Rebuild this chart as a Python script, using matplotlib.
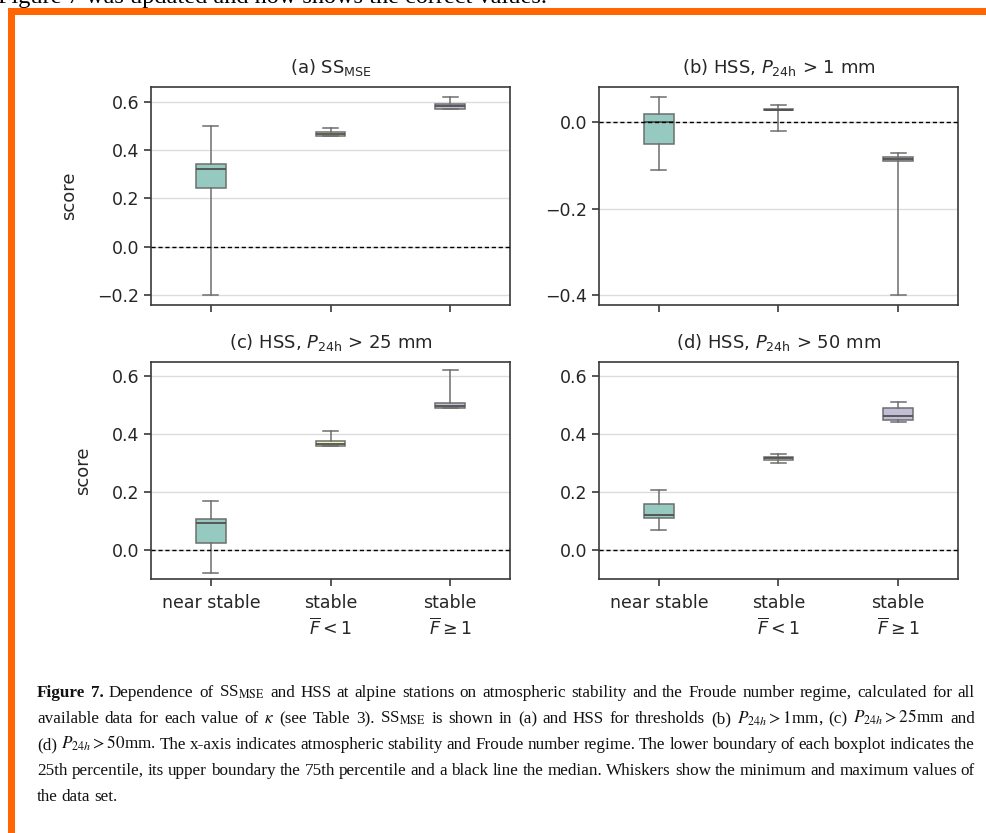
import matplotlib
matplotlib.use("Agg")
import matplotlib.pyplot as plt
from matplotlib.patches import Rectangle

# ---------------- data ----------------
categories = ["near stable", "stable\n$\\overline{F}<1$", "stable\n$\\overline{F}\\geq1$"]
titles = [r"(a) SS$_\mathregular{MSE}$",
          r"(b) HSS, $P_\mathregular{24h}$ > 1 mm",
          r"(c) HSS, $P_\mathregular{24h}$ > 25 mm",
          r"(d) HSS, $P_\mathregular{24h}$ > 50 mm"]

a_q1 = [0.244, 0.459, 0.571]
a_med = [0.321, 0.465, 0.580]
a_q3 = [0.341, 0.473, 0.588]
a_lo = [-0.20, 0.459, 0.571]
a_hi = [0.50, 0.49, 0.62]

b_q1 = [-0.051, 0.028, -0.090]
b_med = [0.000, 0.029, -0.085]
b_q3 = [0.019, 0.030, -0.081]
b_lo = [-0.11, -0.02, -0.40]
b_hi = [0.059, 0.040, -0.07]

c_q1 = [0.025, 0.359, 0.490]
c_med = [0.092, 0.365, 0.497]
c_q3 = [0.106, 0.375, 0.506]
c_lo = [-0.08, 0.359, 0.490]
c_hi = [0.170, 0.41, 0.62]

d_q1 = [0.111, 0.310, 0.449]
d_med = [0.120, 0.315, 0.461]
d_q3 = [0.157, 0.321, 0.490]
d_lo = [0.069, 0.298, 0.44]
d_hi = [0.207, 0.329, 0.51]

yticks_a = [-0.2, 0.0, 0.2, 0.4, 0.6]
yticks_b = [-0.4, -0.2, 0.0]
yticks_cd = [0.0, 0.2, 0.4, 0.6]

box_colors = ["#96cac1", "#f5f5bc", "#c1bed6"]
line_col = "#6e6e6e"

W, H = 987, 833
fig = plt.figure(figsize=(W / 100, H / 100), dpi=100)
fig.patch.set_facecolor("white")
plt.rcParams["font.family"] = ["DejaVu Sans"]


def rect(x0, y0, x1, y1):
    return [x0 / W, 1 - y1 / H, (x1 - x0) / W, (y1 - y0) / H]


panels = [
    (rect(151, 87, 510, 305), (a_q1, a_med, a_q3, a_lo, a_hi), (-0.24, 0.66), yticks_a, True, False),
    (rect(599, 87, 958, 305), (b_q1, b_med, b_q3, b_lo, b_hi), (-0.423, 0.082), yticks_b, False, False),
    (rect(151, 362, 510, 579), (c_q1, c_med, c_q3, c_lo, c_hi), (-0.10, 0.647), yticks_cd, True, True),
    (rect(599, 362, 958, 579), (d_q1, d_med, d_q3, d_lo, d_hi), (-0.10, 0.647), yticks_cd, False, True),
]

for i, (pos, st, ylim, yt, ylab, xlab) in enumerate(panels):
    ax = fig.add_axes(pos)
    q1, med, q3, lo, hi = st
    stats = [dict(q1=q1[k], med=med[k], q3=q3[k], whislo=lo[k], whishi=hi[k],
                  fliers=[], label=categories[k]) for k in range(3)]
    res = ax.bxp(stats, positions=[0, 1, 2], widths=0.25, patch_artist=True,
                 showfliers=False,
                 boxprops=dict(edgecolor=line_col, linewidth=1.1),
                 whiskerprops=dict(color=line_col, linewidth=1.1),
                 capprops=dict(color=line_col, linewidth=1.1),
                 medianprops=dict(color="#505050", linewidth=1.3))
    for patch, c in zip(res["boxes"], box_colors):
        patch.set_facecolor(c)
    for art in res["boxes"] + res["whiskers"] + res["caps"] + res["medians"]:
        art.set_zorder(3)
    ax.set_xlim(-0.5, 2.5)
    ax.set_ylim(*ylim)
    ax.set_yticks(yt)
    ax.yaxis.grid(True, color="#dcdcdc", linewidth=1.0, zorder=0)
    ax.set_axisbelow(True)
    ax.axhline(0, color="black", linestyle="--", linewidth=1.0, dashes=(3, 2), zorder=4)
    for s in ax.spines.values():
        s.set_color("#3a3a3a")
        s.set_linewidth(1.2)
    ax.tick_params(axis="both", length=5, width=1.2, color="#3a3a3a",
                   labelsize=12.5, labelcolor="#262626")
    ax.tick_params(axis="x", pad=6)
    ax.set_xticks([0, 1, 2])
    if xlab:
        ax.set_xticklabels(categories, linespacing=1.3)
    else:
        ax.set_xticklabels([])
    if ylab:
        ax.set_ylabel("score", fontsize=13, color="#262626", labelpad=14)
    ax.set_title(titles[i], fontsize=13, color="#262626", pad=10)

# ---------------- orange frame ----------------
orange = "#ff6500"
fig.patches.append(Rectangle((8 / W, 1 - 15 / H), 1, 7 / H, transform=fig.transFigure,
                             facecolor=orange, edgecolor="none", figure=fig))
fig.patches.append(Rectangle((8 / W, 0), 7 / W, 1 - 8 / H, transform=fig.transFigure,
                             facecolor=orange, edgecolor="none", figure=fig))

# top cut-off text
fig.text(-2 / W, 1 - 2.5 / H, "Figure 7 was updated and now shows the correct values.",
         family="Liberation Serif", fontsize=17.5, va="baseline", ha="left", color="black")

# ---------------- caption (justified) ----------------
cap_lines = [
    [("Figure", "bold"), ("7.", "bold")] + [(w, "normal") for w in
        "Dependence of SS$_\\mathrm{MSE}$ and HSS at alpine stations on atmospheric stability and the Froude number regime, calculated for all".split(" ")],
    [(w, "normal") for w in
        "available data for each value of $\\kappa$ (see Table 3). SS$_\\mathrm{MSE}$ is shown in (a) and HSS for thresholds (b) $P_{24h}>1$mm, (c) $P_{24h}>25$mm and".split(" ")],
    [(w, "normal") for w in
        "(d) $P_{24h}>50$mm. The x-axis indicates atmospheric stability and Froude number regime. The lower boundary of each boxplot indicates the".split(" ")],
    [(w, "normal") for w in
        "25th percentile, its upper boundary the 75th percentile and a black line the median. Whiskers show the minimum and maximum values of".split(" ")],
    [(w, "normal") for w in "the data set.".split(" ")],
]
baselines = [697, 723, 749, 775, 801]
x_left, x_right = 37, 975

fig.canvas.draw()
renderer = fig.canvas.get_renderer()
for li, (toks, yb) in enumerate(zip(cap_lines, baselines)):
    objs = []
    for w, wt in toks:
        t = fig.text(0, 1 - yb / H, w, family="Liberation Serif", fontsize=12.3,
                     weight=wt, math_fontfamily="stix", va="baseline", ha="left",
                     color="#111111")
        objs.append(t)
    widths = [o.get_window_extent(renderer).width for o in objs]
    total = sum(widths)
    if li < len(cap_lines) - 1:
        gap = (x_right - x_left - total) / (len(objs) - 1)
    else:
        gap = 4.0
    x = x_left
    for o, wd in zip(objs, widths):
        o.set_x(x / W)
        x += wd + gap

fig.savefig("out.png", dpi=100, facecolor="white")
